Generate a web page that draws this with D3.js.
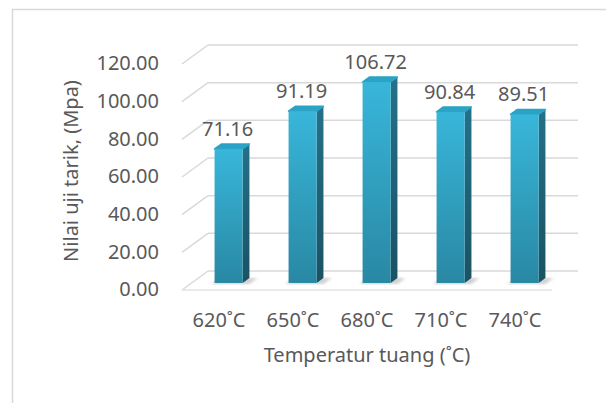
<!DOCTYPE html>
<html>
<head>
<meta charset="utf-8">
<script src="https://cdn.jsdelivr.net/npm/d3@7"></script>
<style>
  body { margin: 0; background: #fff; }
  text { font-family: "Noto Sans", sans-serif; fill: #595959; }
</style>
</head>
<body>
<script>
// values
const categories = ["620˚C", "650˚C", "680˚C", "710˚C", "740˚C"];
const values = [71.16, 91.19, 106.72, 90.84, 89.51];
const yTicks = [0, 20, 40, 60, 80, 100, 120];

const W = 606, H = 403;
const svg = d3.select("body").append("svg").attr("width", W).attr("height", H);

// outer chart border (runs off the right and bottom edge)
svg.append("rect").attr("x", 12.5).attr("y", 9.5).attr("width", 620).attr("height", 420)
  .attr("fill", "none").attr("stroke", "#d9d9d9").attr("stroke-width", 1.5);

// back wall scale, depth vector of the floor
const y = d3.scaleLinear().domain([0, 120]).range([271, 45]);
const DX = 26, DY = 19;
const x = d3.scaleBand().domain(categories).range([182, 552]).paddingInner(0.62).paddingOuter(0.31);

// point at front x, value v, depth t (0 = front, 1 = back)
function P(px, v, t) { return [px + DX * t, y(v) + DY * (1 - t)]; }

const defs = svg.append("defs");
const gFront = defs.append("linearGradient").attr("id", "gf").attr("x1", 0).attr("y1", 0).attr("x2", 0).attr("y2", 1);
gFront.append("stop").attr("offset", "0%").attr("stop-color", "#38b6da");
gFront.append("stop").attr("offset", "100%").attr("stop-color", "#2988a3");
const gSide = defs.append("linearGradient").attr("id", "gs").attr("x1", 0).attr("y1", 0).attr("x2", 0).attr("y2", 1);
gSide.append("stop").attr("offset", "0%").attr("stop-color", "#247189");
gSide.append("stop").attr("offset", "100%").attr("stop-color", "#1a5263");
const blur = defs.append("filter").attr("id", "blur");
blur.append("feGaussianBlur").attr("stdDeviation", 1.5);

// gridlines on back wall + left wall
const grid = svg.append("g").attr("stroke", "#d9d9d9").attr("stroke-width", 1.5).attr("fill", "none");
yTicks.forEach(v => {
  const a = P(182, v, 1), b = P(552, v, 1), c = P(182, v, 0);
  grid.append("line").attr("x1", a[0]).attr("y1", a[1]).attr("x2", b[0]).attr("y2", b[1]);
  grid.append("line").attr("x1", c[0]).attr("y1", c[1]).attr("x2", a[0]).attr("y2", a[1]);
});
// floor front edge
const f0 = P(182, 0, 0), f1 = P(552, 0, 0);
grid.append("line").attr("x1", f0[0]).attr("y1", f0[1]).attr("x2", f1[0]).attr("y2", f1[1]).attr("stroke", "#e3e3e3");

// y tick labels
svg.append("g").selectAll("text").data(yTicks).join("text")
  .attr("x", 159).attr("y", d => y(d) + 20)
  .attr("text-anchor", "end").attr("dominant-baseline", "middle")
  .attr("font-size", 20).text(d => d.toFixed(2));

// bars
const t0 = 0.37, t1 = 0.63;
const bars = svg.append("g");
const pts = arr => arr.map(p => p.join(",")).join(" ");
categories.forEach((c, i) => {
  const v = values[i];
  const x0 = x(c), x1 = x(c) + x.bandwidth();
  // soft floor shadow
  bars.append("polygon")
    .attr("points", pts([P(x0 - 2, 0, t0 - 0.05), P(x1 + 8, 0, t0 - 0.05), P(x1 + 8, 0, t1), P(x0 - 2, 0, t1)]))
    .attr("fill", "#cfcfcf").attr("filter", "url(#blur)");
  bars.append("polygon")
    .attr("points", pts([P(x1, 0, t0), P(x1, v, t0), P(x1, v, t1), P(x1, 0, t1)]))
    .attr("fill", "url(#gs)");
  bars.append("polygon")
    .attr("points", pts([P(x0, v, t0), P(x1, v, t0), P(x1, v, t1), P(x0, v, t1)]))
    .attr("fill", "#2aa3c5").attr("stroke", "#2aa3c5").attr("stroke-width", 1.5).attr("stroke-linejoin", "round");
  const a = P(x0, v, t0), b = P(x1, 0, t0);
  bars.append("rect").attr("x", a[0]).attr("y", a[1]).attr("width", b[0] - a[0]).attr("height", b[1] - a[1])
    .attr("fill", "url(#gf)");
  // data label
  svg.append("text").attr("x", (a[0] + b[0]) / 2 - 1).attr("y", y(v) - 1)
    .attr("text-anchor", "middle").attr("font-size", 20).text(v.toFixed(2));
});

// category labels
svg.append("g").selectAll("text").data(categories).join("text")
  .attr("x", d => x(d) + x.bandwidth() / 2).attr("y", 322)
  .attr("text-anchor", "middle").attr("dominant-baseline", "middle")
  .attr("font-size", 20).text(d => d);

// axis titles
svg.append("text").attr("x", 367).attr("y", 357)
  .attr("text-anchor", "middle").attr("dominant-baseline", "middle")
  .attr("font-size", 20).text("Temperatur tuang (˚C)");
svg.append("text").attr("transform", "translate(73,171) rotate(-90)")
  .attr("text-anchor", "middle").attr("dominant-baseline", "middle")
  .attr("font-size", 20).text("Nilai uji tarik, (Mpa)");
</script>
</body>
</html>
